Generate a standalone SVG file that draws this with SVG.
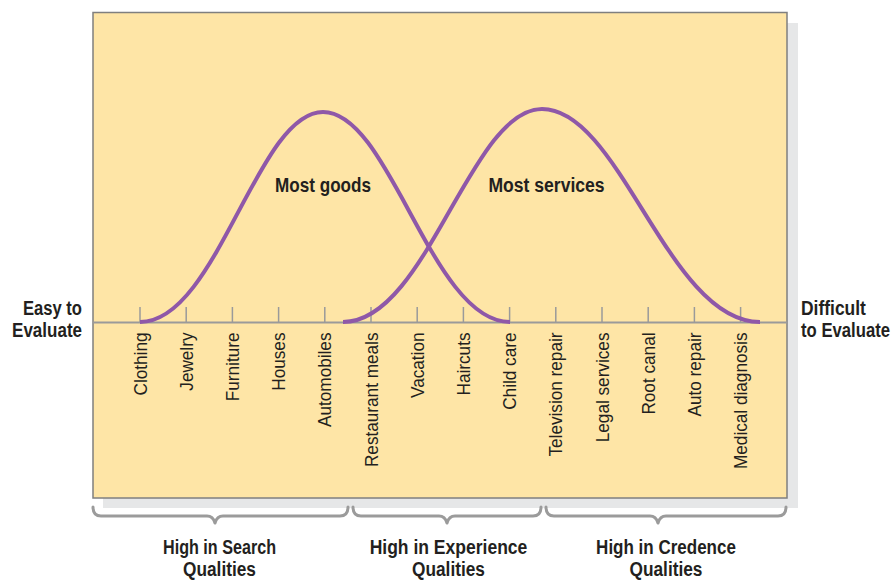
<svg xmlns="http://www.w3.org/2000/svg" width="894" height="581" viewBox="0 0 894 581">
<style>
.lbl{font-family:"Liberation Sans",Arial,sans-serif;font-size:18px;fill:#231f20;text-anchor:end}
.bold{font-family:"Liberation Sans",Arial,sans-serif;font-size:21px;font-weight:bold;fill:#231f20}
.mid{text-anchor:middle}
.end{text-anchor:end}
.tick{stroke:#9a9a9a;stroke-width:1.5}
.curve{fill:none;stroke:#8f58a8;stroke-width:4}
.brace{fill:none;stroke:#9b9b9b;stroke-width:3;stroke-linecap:round;stroke-linejoin:round}
</style>
<rect width="894" height="581" fill="#ffffff"/>
<g id="panel">
<rect x="103" y="23" width="695" height="485" fill="#e6e7e8"/>
<rect x="93" y="12.5" width="694" height="485.5" fill="#fee5a6" stroke="#7f7f7f" stroke-width="1.5"/>
</g>
<g id="axis">
<line x1="93" y1="322.5" x2="787" y2="322.5" stroke="#9a9a9a" stroke-width="2"/>
<line class="tick" x1="140" y1="307" x2="140" y2="322"/>
<line class="tick" x1="186.2" y1="307" x2="186.2" y2="322"/>
<line class="tick" x1="232.4" y1="307" x2="232.4" y2="322"/>
<line class="tick" x1="278.6" y1="307" x2="278.6" y2="322"/>
<line class="tick" x1="324.8" y1="307" x2="324.8" y2="322"/>
<line class="tick" x1="371" y1="307" x2="371" y2="322"/>
<line class="tick" x1="417.2" y1="307" x2="417.2" y2="322"/>
<line class="tick" x1="463.4" y1="307" x2="463.4" y2="322"/>
<line class="tick" x1="509.6" y1="307" x2="509.6" y2="322"/>
<line class="tick" x1="555.8" y1="307" x2="555.8" y2="322"/>
<line class="tick" x1="602" y1="307" x2="602" y2="322"/>
<line class="tick" x1="648.2" y1="307" x2="648.2" y2="322"/>
<line class="tick" x1="694.4" y1="307" x2="694.4" y2="322"/>
<line class="tick" x1="740.6" y1="307" x2="740.6" y2="322"/>
</g>
<g id="connectors">
<path id="goods-curve" class="curve" d="M140,322 C216.9,322 257.1,112 323,112 C390.3,112 431.5,322 510,322"/>
<path id="services-curve" class="curve" d="M343,322 C426.6,322 470.4,109 542,109 C620.5,109 668.4,322 760,322"/>
<path id="brace-search" class="brace" d="M93,507 Q93,516 101,516 L207,516 Q213,516 215,523 Q217,516 223,516 L340,516 Q348,516 348,507"/>
<path id="brace-experience" class="brace" d="M353,507 Q353,516 361,516 L439,516 Q445,516 447,523 Q449,516 455,516 L533,516 Q541,516 541,507"/>
<path id="brace-credence" class="brace" d="M546,507 Q546,516 554,516 L650,516 Q656,516 658,523 Q660,516 666,516 L778,516 Q786,516 786,507"/>
</g>
<g id="item-labels">
<text class="lbl" transform="translate(146.5,332.5) rotate(-90) scale(0.955,1)">Clothing</text>
<text class="lbl" transform="translate(192.7,332.5) rotate(-90) scale(0.955,1)">Jewelry</text>
<text class="lbl" transform="translate(238.9,332.5) rotate(-90) scale(0.955,1)">Furniture</text>
<text class="lbl" transform="translate(285.1,332.5) rotate(-90) scale(0.955,1)">Houses</text>
<text class="lbl" transform="translate(331.3,332.5) rotate(-90) scale(0.955,1)">Automobiles</text>
<text class="lbl" transform="translate(377.5,332.5) rotate(-90) scale(0.955,1)">Restaurant meals</text>
<text class="lbl" transform="translate(423.7,332.5) rotate(-90) scale(0.955,1)">Vacation</text>
<text class="lbl" transform="translate(469.9,332.5) rotate(-90) scale(0.955,1)">Haircuts</text>
<text class="lbl" transform="translate(516.1,332.5) rotate(-90) scale(0.955,1)">Child care</text>
<text class="lbl" transform="translate(562.3,332.5) rotate(-90) scale(0.955,1)">Television repair</text>
<text class="lbl" transform="translate(608.5,332.5) rotate(-90) scale(0.955,1)">Legal services</text>
<text class="lbl" transform="translate(654.7,332.5) rotate(-90) scale(0.955,1)">Root canal</text>
<text class="lbl" transform="translate(700.9,332.5) rotate(-90) scale(0.955,1)">Auto repair</text>
<text class="lbl" transform="translate(747.1,332.5) rotate(-90) scale(0.955,1)">Medical diagnosis</text>
</g>
<g id="node-most-goods">
<text class="bold mid" transform="translate(323,192) scale(0.815,1)">Most goods</text>
</g>
<g id="node-most-services">
<text class="bold mid" transform="translate(546.5,192) scale(0.837,1)">Most services</text>
</g>
<g id="node-easy">
<text class="bold end" transform="translate(82,315) scale(0.79,1)">Easy to</text>
<text class="bold end" transform="translate(82,337) scale(0.81,1)">Evaluate</text>
</g>
<g id="node-difficult">
<text class="bold" transform="translate(801,315) scale(0.831,1)">Difficult</text>
<text class="bold" transform="translate(801,337) scale(0.795,1)">to Evaluate</text>
</g>
<g id="node-search">
<text class="bold mid" transform="translate(219.5,554) scale(0.769,1)">High in Search</text>
<text class="bold mid" transform="translate(219.5,576) scale(0.823,1)">Qualities</text>
</g>
<g id="node-experience">
<text class="bold mid" transform="translate(448.5,554) scale(0.835,1)">High in Experience</text>
<text class="bold mid" transform="translate(448.5,576) scale(0.823,1)">Qualities</text>
</g>
<g id="node-credence">
<text class="bold mid" transform="translate(666,554) scale(0.81,1)">High in Credence</text>
<text class="bold mid" transform="translate(666,576) scale(0.823,1)">Qualities</text>
</g>
</svg>
